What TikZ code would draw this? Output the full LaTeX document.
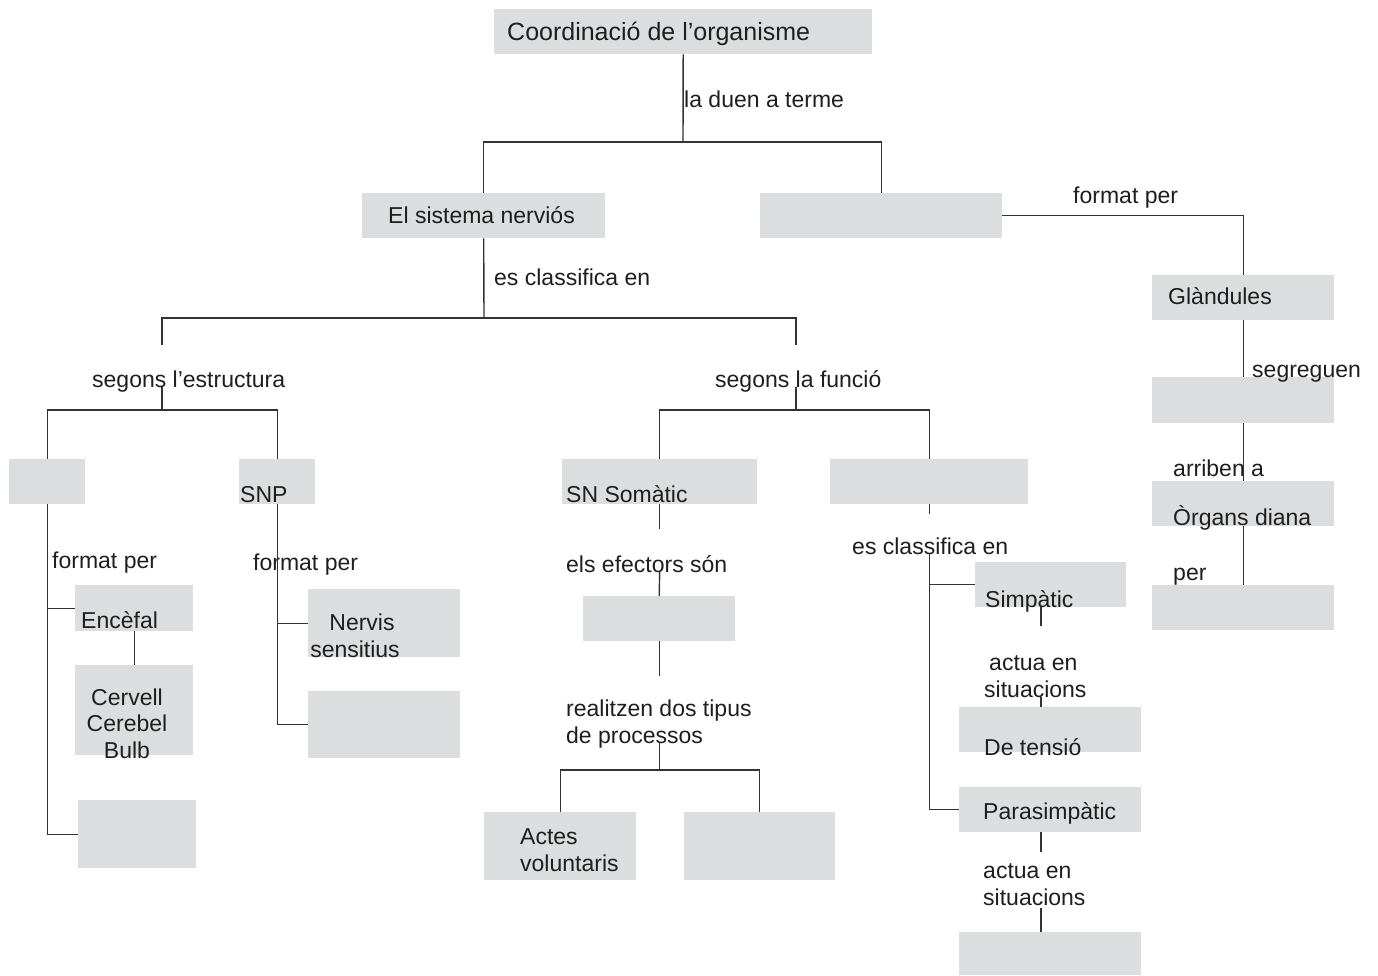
\documentclass[tikz,border=0pt]{standalone}
\usepackage{fontspec}
\setmainfont{Liberation Sans}

\definecolor{boxgray}{RGB}{220,221,222}
\definecolor{linegray}{RGB}{51,51,51}
\definecolor{txtgray}{RGB}{30,30,30}

\begin{document}
\begin{tikzpicture}[x=1pt, y=-1pt,
  box/.style = {fill=boxgray, inner sep=0, anchor=north west},
  txt/.style = {inner sep=0, anchor=base west, text=txtgray, align=left,
                font=\fontsize{23}{26.5}\selectfont},
  link/.style = {draw=linegray, line width=1.4pt}]
\useasboundingbox (0,0) rectangle (1378,975);

% gray boxes
\node[box, minimum width=378pt, minimum height=45pt] (coord) at (494,9) {};
\node[box, minimum width=243pt, minimum height=45pt] (nerv) at (362,193) {};
\node[box, minimum width=242pt, minimum height=45pt] (endo) at (760,193) {};
\node[box, minimum width=182pt, minimum height=45pt] (gland) at (1152,275) {};
\node[box, minimum width=182pt, minimum height=46pt] (horm) at (1152,377) {};
\node[box, minimum width=182pt, minimum height=45pt] (organ) at (1152,481) {};
\node[box, minimum width=182pt, minimum height=45pt] (via) at (1152,585) {};
\node[box, minimum width=76pt, minimum height=45pt] (snc) at (9,459) {};
\node[box, minimum width=76pt, minimum height=45pt] (snp) at (239,459) {};
\node[box, minimum width=118pt, minimum height=46pt] (ence) at (75,585) {};
\node[box, minimum width=118pt, minimum height=90pt] (cerv) at (75,665) {};
\node[box, minimum width=118pt, minimum height=68pt] (medul) at (78,800) {};
\node[box, minimum width=152pt, minimum height=68pt] (sens) at (308,589) {};
\node[box, minimum width=152pt, minimum height=67pt] (motor) at (308,691) {};
\node[box, minimum width=195pt, minimum height=45pt] (soma) at (562,459) {};
\node[box, minimum width=152pt, minimum height=45pt] (musc) at (583,596) {};
\node[box, minimum width=152pt, minimum height=68pt] (actes) at (484,812) {};
\node[box, minimum width=151pt, minimum height=68pt] (invol) at (684,812) {};
\node[box, minimum width=198pt, minimum height=45pt] (auto) at (830,459) {};
\node[box, minimum width=151pt, minimum height=45pt] (simp) at (975,562) {};
\node[box, minimum width=182pt, minimum height=45pt] (tens) at (959,707) {};
\node[box, minimum width=182pt, minimum height=45pt] (paras) at (959,787) {};
\node[box, minimum width=182pt, minimum height=43pt] (repos) at (959,932) {};

% texts (multi-line ones sit on their last baseline)
\node[txt, font=\fontsize{25}{28}\selectfont] (tcoord) at (507,40) {Coordinació de l’organisme};
\node[txt] (lduen) at (684,107) {la duen a terme};
\node[txt] (tnerv) at (388,223) {El sistema nerviós};
\node[txt] (lform) at (1073,203) {format per};
\node[txt] (lcl1) at (494,285) {es classifica en};
\node[txt] (tgland) at (1168,304) {Glàndules};
\node[txt] (lsegr) at (1252,377) {segreguen};
\node[txt] (larr) at (1173,476) {arriben a};
\node[txt] (torgan) at (1173,525) {Òrgans diana};
\node[txt] (lper) at (1173,580) {per};
\node[txt] (lestr) at (92,387) {segons l’estructura};
\node[txt] (lfunc) at (715,387) {segons la funció};
\node[txt] (tsnp) at (240,502) {SNP};
\node[txt] (tsoma) at (566,502) {SN Somàtic};
\node[txt] (lfsnc) at (52,568) {format per};
\node[txt] (lfsnp) at (253,570) {format per};
\node[txt] (tence) at (81,628) {Encèfal};
\node[txt, align=center, anchor=base] (tcerv) at (127,758) {Cervell\\Cerebel\\Bulb};
\node[txt, align=center, anchor=base] (tsens) at (355,657) {\hspace{14pt}Nervis\\sensitius};
\node[txt] (lefec) at (566,572) {els efectors són};
\node[txt] (lproc) at (566,743) {realitzen dos tipus\\de processos};
\node[txt] (tactes) at (520,871) {Actes\\voluntaris};
\node[txt] (lcl2) at (852,554) {es classifica en};
\node[txt] (tsimp) at (985,607) {Simpàtic};
\node[txt] (lact1) at (984,697) {\hspace{5pt}actua en\\situacions};
\node[txt] (ttens) at (984,755) {De tensió};
\node[txt] (tparas) at (983,819) {Parasimpàtic};
\node[txt] (lact2) at (983,905) {actua en\\situacions};

% connectors
\coordinate (bcoord) at (683,142);
\draw[link] (coord.south) -- (bcoord);
\draw[link] (nerv.north) |- (bcoord) -| (endo.north);
\draw[link] (endo.east) -| (gland.north);
\draw[link] (gland.south) -- (horm.north);
\draw[link] (horm.south) -- (organ.north);
\draw[link] (organ.south) -- (via.north);

\coordinate (bnerv) at (484,318);
\coordinate (estr) at (162,318);
\coordinate (func) at (796,318);
\draw[link] (nerv.south) -- (bnerv);
\draw[link] (estr) ++(0,27) -- (estr) -- (func) -- ++(0,27);

\coordinate (bestr) at (162,410);
\draw[link] (lestr.base -| bestr) -- (bestr);
\draw[link] (snc.north) |- (bestr) -| (snp.north);
\coordinate (bfunc) at (796,410);
\draw[link] (lfunc.base -| bfunc) -- (bfunc);
\draw[link] (soma.north) |- (bfunc) -| (auto.north);

\draw[link] (snc.south) |- (medul.west);
\draw[link] (snc.south |- ence.west) -- (ence.west);
\draw[link] (ence.south) -- (cerv.north);
\draw[link] (snp.south) |- (motor.west);
\draw[link] (snp.south |- sens.west) -- (sens.west);

\draw[link] (soma.south) -- ++(0,25);
\draw[link] (lefec.base -| soma.south) -- (musc.north);
\draw[link] (musc.south) -- ++(0,35);
\coordinate (bproc) at (659.5,770);
\draw[link] (lproc.base -| bproc) -- (bproc);
\draw[link] (actes.north) |- (bproc) -| (invol.north);

\draw[link] (auto.south) -- ++(0,10);
\draw[link] (lcl2.base -| auto.south) |- (paras.west);
\draw[link] (auto.south |- simp.west) -- (simp.west);

\coordinate (sx) at (1041,0);
\draw[link] (simp.south -| sx) -- ++(0,19);
\draw[link] (lact1.base -| sx) -- (tens.north -| sx);
\draw[link] (paras.south -| sx) -- ++(0,20);
\draw[link] (lact2.south -| sx) ++(0,3) -- (repos.north -| sx);
\end{tikzpicture}
\end{document}
